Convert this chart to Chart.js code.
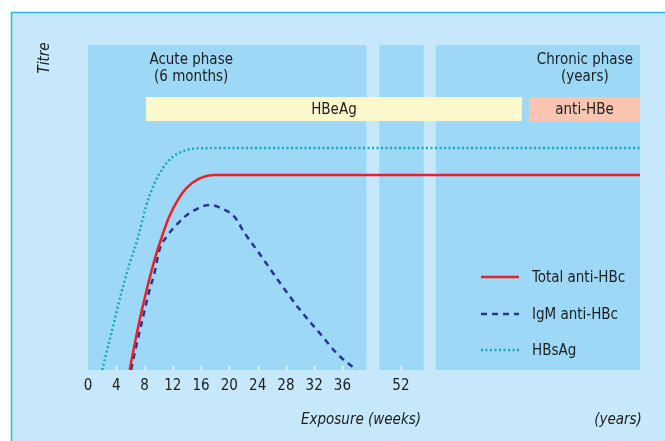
<!DOCTYPE html>
<html>
<head>
<meta charset="utf-8">
<script src="https://cdn.jsdelivr.net/npm/chart.js@4.4.1/dist/chart.umd.min.js"></script>
<style>
  html, body { margin: 0; padding: 0; background: #ffffff; }
  #wrap { position: relative; width: 665px; height: 441px; }
</style>
</head>
<body>
<div id="wrap"><canvas id="kt_chart_hbv"></canvas></div>
<script>
"use strict";

// Exposure ticks (weeks); 52 sits after the axis break
var weekTicks = [0, 4, 8, 12, 16, 20, 24, 28, 32, 36, 52];

// HBsAg titre
var hbsagWeeks = [2.0, 3.3, 4.7, 5.9, 7.1, 8.2, 9.4, 10.6, 12.0, 13.7, 15.6, 20];
var hbsagTitre = [0, 11.3, 23.6, 32.8, 41, 50.3, 57.4, 62.1, 65.6, 67.5, 68.2, 68.3];

// Total anti-HBc titre
var totalWeeks = [5.9, 7.1, 8.3, 9.4, 10.3, 11.5, 12.7, 13.9, 15.6, 17.9, 22];
var totalTitre = [0, 13.3, 24.6, 33.8, 40, 47.2, 52.3, 55.9, 58.7, 60, 60];

// IgM anti-HBc titre
var igmWeeks = [6.1, 6.6, 7.8, 8.7, 9.4, 10.1, 11.3, 12.5, 13.7, 15.1, 17.2, 18.9, 20.7, 22.2, 23.9, 27.2, 30.0, 32.8, 35.2, 38.0];
var igmTitre = [0, 5.2, 16.4, 24.6, 29.8, 36.9, 41.5, 44.6, 47.2, 49.2, 50.8, 49.7, 47.2, 42, 36.9, 26.7, 18.5, 11.3, 5.1, 0];

// Antigen/antibody bands (axis units) and their titre span
var bandLabels = ['HBeAg', 'anti-HBe'];
var bandFrom = [8.2, 62.4];
var bandTo = [61.4, 78.1];
var bandColors = ['#fdf8cb', '#f9c5b1'];
var bandTitre = [76.6, 84];

// Axis segments: acute weeks, week 52, chronic years
var segFrom = [0, 41.2, 49.2];
var segTo = [39.4, 47.5, 78.1];

var X_MAX = 78.1;
var fontFamily = '"Liberation Sans Narrow", "DejaVu Sans Condensed", "Liberation Sans", sans-serif';
var fontSize = 15;
var textColor = '#1d1d1b';

// Week value -> position on the broken axis
var weekToAxis = function (w) {
    return w <= 40 ? w : 44.27 + (w - 52);
};

var toPoints = function (weeks, titre, extendToEnd) {
    var pts = weeks.map(function (w, i) { return { x: weekToAxis(w), y: titre[i] }; });
    if (extendToEnd) pts.push({ x: X_MAX, y: titre[titre.length - 1] });
    return pts;
};

var datasets = [
    {
        label: 'Total anti-HBc',
        data: toPoints(totalWeeks, totalTitre, true),
        borderColor: '#e8202a',
        borderWidth: 2.5,
        borderDash: []
    },
    {
        label: 'IgM anti-HBc',
        data: toPoints(igmWeeks, igmTitre, false),
        borderColor: '#2e3192',
        borderWidth: 2.5,
        borderDash: [6, 5]
    },
    {
        label: 'HBsAg',
        data: toPoints(hbsagWeeks, hbsagTitre, true),
        borderColor: '#18a7bf',
        borderWidth: 2.5,
        borderDash: [2, 2.5]
    }
];
datasets.forEach(function (d) {
    d.pointRadius = 0;
    d.fill = false;
    d.cubicInterpolationMode = 'monotone';
});

// Frame, panels, bands and all annotation text
var decorPlugin = {
    id: 'decor',
    beforeDraw: function (chart) {
        var ctx = chart.ctx;
        ctx.save();
        ctx.fillStyle = '#ffffff';
        ctx.fillRect(0, 0, chart.width, chart.height);
        ctx.fillStyle = '#c6e8fa';
        ctx.fillRect(11, 12, chart.width, chart.height);
        ctx.strokeStyle = '#29b5ee';
        ctx.lineWidth = 1.5;
        ctx.beginPath();
        ctx.moveTo(11.5, chart.height);
        ctx.lineTo(11.5, 12.5);
        ctx.lineTo(chart.width, 12.5);
        ctx.stroke();
        ctx.restore();
    },
    beforeDatasetsDraw: function (chart) {
        var ctx = chart.ctx;
        var x = chart.scales.x, y = chart.scales.y;
        var area = chart.chartArea;
        ctx.save();
        // plot panels
        ctx.fillStyle = '#9dd9f7';
        segFrom.forEach(function (f, i) {
            var l = x.getPixelForValue(f), r = x.getPixelForValue(segTo[i]);
            ctx.fillRect(l, area.top, r - l, area.bottom - area.top);
        });
        // tick marks inside the panel
        ctx.strokeStyle = '#ffffff';
        ctx.lineWidth = 1.5;
        x.ticks.forEach(function (t) {
            if (t.value === 0) return;
            var px = Math.round(x.getPixelForValue(t.value)) + 0.5;
            ctx.beginPath();
            ctx.moveTo(px, area.bottom);
            ctx.lineTo(px, area.bottom - 4);
            ctx.stroke();
        });
        // HBeAg / anti-HBe bands
        var bTop = y.getPixelForValue(bandTitre[1]), bBot = y.getPixelForValue(bandTitre[0]);
        ctx.font = fontSize + 'px ' + fontFamily;
        ctx.textAlign = 'center';
        ctx.textBaseline = 'middle';
        bandLabels.forEach(function (lab, i) {
            var l = x.getPixelForValue(bandFrom[i]), r = x.getPixelForValue(bandTo[i]);
            ctx.fillStyle = bandColors[i];
            ctx.fillRect(l, bTop, r - l, bBot - bTop);
            ctx.fillStyle = textColor;
            ctx.fillText(lab, (l + r) / 2, (bTop + bBot) / 2 + 1);
        });
        // phase headings
        var acuteX = x.getPixelForValue(14.6), chronicX = x.getPixelForValue(70.3);
        ctx.fillText('Acute phase', acuteX, 60);
        ctx.fillText('(6 months)', acuteX, 77);
        ctx.fillText('Chronic phase', chronicX, 60);
        ctx.fillText('(years)', chronicX, 77);
        ctx.restore();
    },
    afterDatasetsDraw: function (chart) {
        var ctx = chart.ctx;
        ctx.save();
        // legend
        var rowY = [277, 314, 350];
        ctx.font = fontSize + 'px ' + fontFamily;
        ctx.textAlign = 'left';
        ctx.textBaseline = 'middle';
        chart.data.datasets.forEach(function (d, i) {
            ctx.strokeStyle = d.borderColor;
            ctx.lineWidth = d.borderWidth;
            ctx.setLineDash(d.borderDash);
            ctx.beginPath();
            ctx.moveTo(481, rowY[i]);
            ctx.lineTo(519, rowY[i]);
            ctx.stroke();
            ctx.setLineDash([]);
            ctx.fillStyle = textColor;
            ctx.fillText(d.label, 532, rowY[i] + 1);
        });
        // axis titles
        ctx.font = 'italic ' + fontSize + 'px ' + fontFamily;
        ctx.textAlign = 'center';
        ctx.fillText('Exposure (weeks)', 361, 420);
        ctx.fillText('(years)', 618, 420);
        ctx.translate(45, 58);
        ctx.rotate(-Math.PI / 2);
        ctx.fillText('Titre', 0, 0);
        ctx.restore();
    }
};

var ctx = document.getElementById('kt_chart_hbv').getContext('2d');
var chart = new Chart(ctx, {
    type: 'line',
    data: { datasets: datasets },
    options: {
        responsive: true,
        maintainAspectRatio: false,
        animation: false,
        events: [],
        layout: { padding: { left: 88, right: 25, top: 45, bottom: 0 } },
        plugins: {
            legend: { display: false },
            tooltip: { enabled: false }
        },
        scales: {
            x: {
                type: 'linear',
                min: 0,
                max: X_MAX,
                grid: { display: false, drawTicks: false },
                border: { display: false },
                afterBuildTicks: function (scale) {
                    scale.ticks = weekTicks.map(function (w) { return { value: weekToAxis(w) }; });
                },
                afterFit: function (scale) {
                    scale.height = 71;
                },
                ticks: {
                    autoSkip: false,
                    maxRotation: 0,
                    padding: 7,
                    color: textColor,
                    font: { family: fontFamily, size: fontSize },
                    callback: function (value, index) {
                        return String(weekTicks[index]);
                    }
                }
            },
            y: {
                display: false,
                min: 0,
                max: 100
            }
        }
    },
    plugins: [decorPlugin]
});
</script>
</body>
</html>
